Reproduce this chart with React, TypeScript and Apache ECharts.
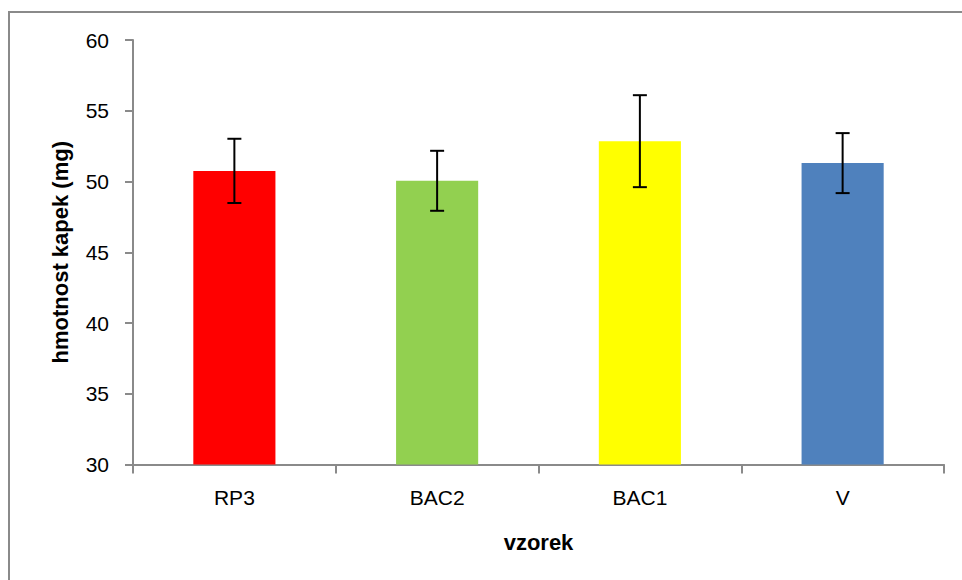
import React, { useEffect, useRef } from "react";
import * as echarts from "echarts";

const categories = ["RP3", "BAC2", "BAC1", "V"];
const means = [50.75, 50.05, 52.85, 51.3];
const errors = [2.27, 2.12, 3.25, 2.12];
const barColors = ["#FF0000", "#92D050", "#FFFF00", "#4F81BD"];
const yTicks = { min: 30, max: 60, interval: 5 };

const FONT = "'Liberation Sans', Arial, sans-serif";

export default function App() {
  const ref = useRef<HTMLDivElement>(null);
  useEffect(() => {
    document.body.style.margin = "0";
    if (!ref.current) return;
    const chart = echarts.init(ref.current, null, { renderer: "svg" });
    const errData = categories.map((_, i) => [i, means[i] - errors[i], means[i] + errors[i]]);
    chart.setOption({
      animation: false,
      backgroundColor: "#ffffff",
      textStyle: { fontFamily: FONT },
      graphic: [
        {
          type: "rect",
          shape: { x: 9, y: 12, width: 1200, height: 1200 },
          style: { fill: "none", stroke: "#8a8a8a", lineWidth: 2 },
          silent: true,
        },
      ],
      grid: { left: 133, top: 40, right: 18, bottom: 115.5, containLabel: false },
      xAxis: {
        type: "category",
        data: categories,
        name: "vzorek",
        nameLocation: "middle",
        nameGap: 78,
        nameTextStyle: { fontFamily: FONT, fontSize: 22, fontWeight: "bold", color: "#000", align: "center", verticalAlign: "middle" },
        axisLine: { lineStyle: { color: "#8a8a8a", width: 2 } },
        axisTick: { show: true, length: 9, lineStyle: { color: "#8a8a8a", width: 2 } },
        axisLabel: { fontFamily: FONT, fontSize: 21, color: "#000", margin: 22 },
      },
      yAxis: {
        type: "value",
        min: yTicks.min,
        max: yTicks.max,
        interval: yTicks.interval,
        name: "hmotnost kapek (mg)",
        nameLocation: "middle",
        nameGap: 73,
        nameRotate: 90,
        nameTextStyle: { fontFamily: FONT, fontSize: 22, fontWeight: "bold", color: "#000", align: "center", verticalAlign: "middle" },
        axisLine: { show: true, lineStyle: { color: "#8a8a8a", width: 2 } },
        axisTick: { show: true, length: 8, lineStyle: { color: "#8a8a8a", width: 2 } },
        splitLine: { show: false },
        axisLabel: { fontFamily: FONT, fontSize: 21, color: "#000", margin: 24 },
      },
      series: [
        {
          type: "bar",
          barCategoryGap: "59.5%",
          data: means.map((v, i) => ({ value: v, itemStyle: { color: barColors[i] } })),
        },
        {
          type: "custom",
          data: errData,
          z: 10,
          renderItem: (params: any, api: any) => {
            const idx = api.value(0);
            const lo = api.coord([idx, api.value(1)]);
            const hi = api.coord([idx, api.value(2)]);
            const hw = 7;
            const style = { stroke: "#000", lineWidth: 2 };
            return {
              type: "group",
              children: [
                { type: "line", shape: { x1: hi[0], y1: hi[1], x2: lo[0], y2: lo[1] }, style },
                { type: "line", shape: { x1: hi[0] - hw, y1: hi[1], x2: hi[0] + hw, y2: hi[1] }, style },
                { type: "line", shape: { x1: lo[0] - hw, y1: lo[1], x2: lo[0] + hw, y2: lo[1] }, style },
              ],
            };
          },
        },
      ],
    });
    return () => chart.dispose();
  }, []);
  return <div ref={ref} style={{ width: 962, height: 580, overflow: "hidden" }} />;
}
